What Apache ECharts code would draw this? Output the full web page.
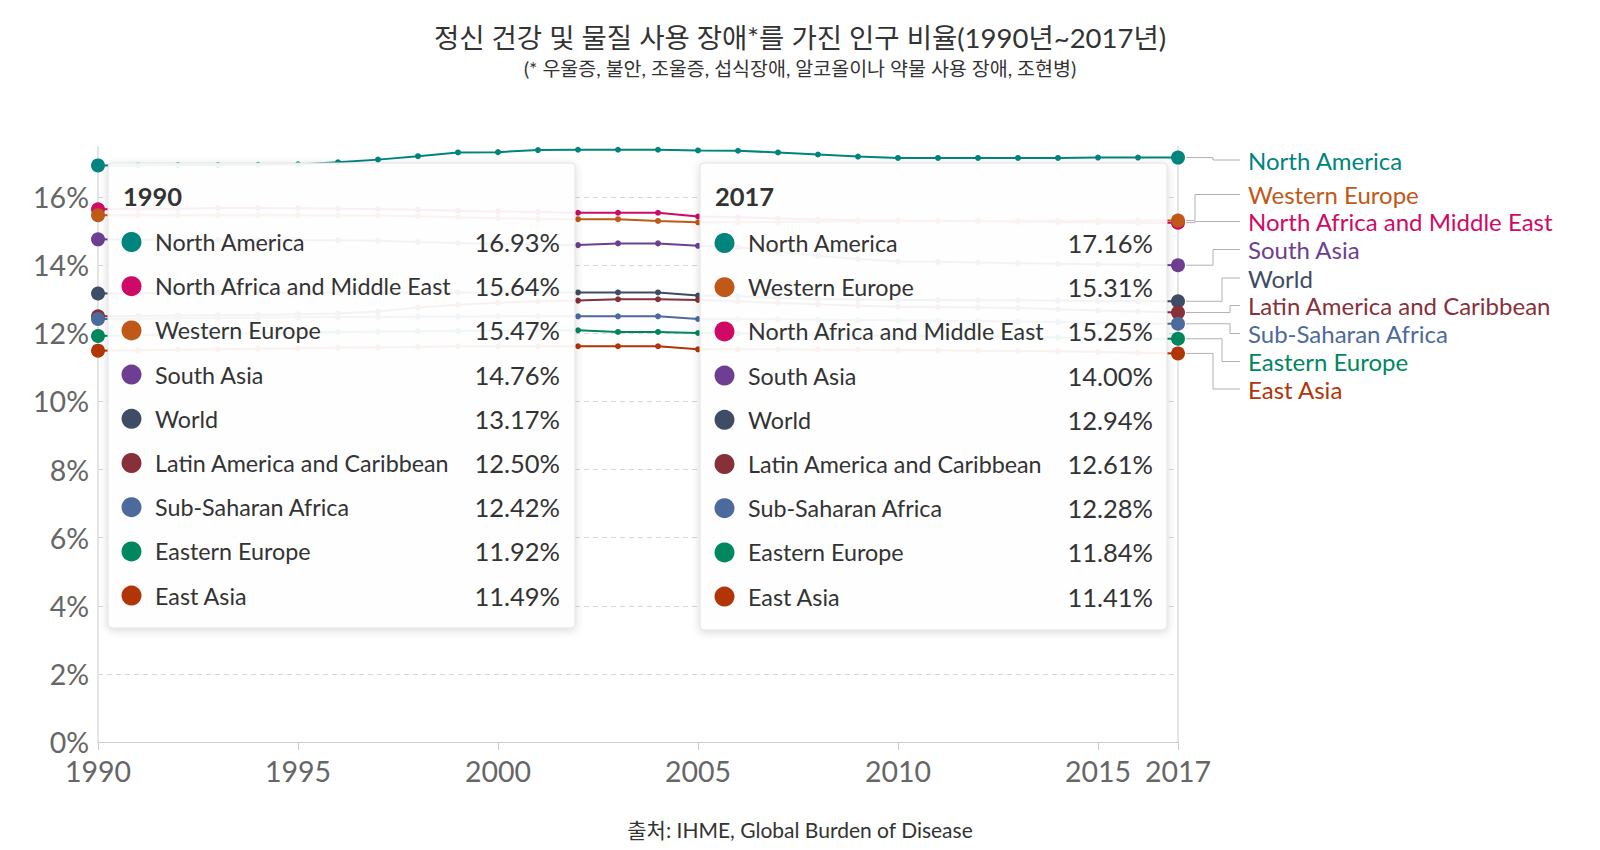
<!DOCTYPE html>
<html><head><meta charset="utf-8">
<script src="https://cdn.jsdelivr.net/npm/echarts@6/dist/echarts.min.js"></script>
<style>html,body{margin:0;padding:0;background:#fff}#c{width:1600px;height:850px}</style>
</head><body><div id="c"></div>
<script>
// ---------- DATA ----------
const years = [1990,1991,1992,1993,1994,1995,1996,1997,1998,1999,2000,2001,2002,2003,2004,2005,2006,2007,2008,2009,2010,2011,2012,2013,2014,2015,2016,2017];
const xTickLabels = [1990,1995,2000,2005,2010,2015,2017];
const yTickLabels = [0,2,4,6,8,10,12,14,16];

const northAmerica = [16.93,16.93,16.94,16.94,16.95,16.96,17.02,17.10,17.20,17.31,17.32,17.38,17.39,17.39,17.39,17.37,17.36,17.31,17.25,17.19,17.15,17.15,17.15,17.15,17.15,17.16,17.16,17.16];
const northAfricaMiddleEast = [15.64,15.65,15.66,15.68,15.68,15.67,15.66,15.65,15.63,15.60,15.58,15.56,15.54,15.54,15.54,15.43,15.41,15.37,15.34,15.32,15.31,15.30,15.29,15.28,15.27,15.26,15.25,15.25];
const westernEurope = [15.47,15.47,15.47,15.47,15.47,15.47,15.46,15.46,15.44,15.41,15.38,15.36,15.35,15.35,15.30,15.26,15.26,15.27,15.28,15.29,15.29,15.30,15.30,15.30,15.31,15.31,15.31,15.31];
const southAsia = [14.76,14.75,14.75,14.74,14.74,14.74,14.73,14.72,14.68,14.65,14.62,14.60,14.59,14.64,14.64,14.57,14.53,14.40,14.28,14.18,14.11,14.10,14.08,14.06,14.04,14.03,14.01,14.00];
const world = [13.17,13.18,13.19,13.19,13.20,13.20,13.20,13.20,13.20,13.20,13.20,13.20,13.20,13.20,13.20,13.11,13.09,13.04,13.01,12.99,12.98,12.98,12.97,12.97,12.96,12.95,12.94,12.94];
const latinAmerica = [12.50,12.51,12.52,12.53,12.54,12.56,12.58,12.64,12.76,12.84,12.90,12.94,12.96,13.00,13.00,12.98,12.94,12.89,12.85,12.81,12.78,12.77,12.76,12.74,12.71,12.67,12.64,12.61];
const subSaharanAfrica = [12.42,12.43,12.44,12.45,12.46,12.47,12.48,12.48,12.49,12.49,12.50,12.50,12.50,12.50,12.50,12.42,12.42,12.41,12.40,12.39,12.38,12.37,12.36,12.35,12.33,12.31,12.29,12.28];
const easternEurope = [11.92,11.94,11.96,11.98,12.00,12.02,12.04,12.05,12.06,12.07,12.08,12.10,12.09,12.04,12.04,12.01,12.00,11.98,11.96,11.94,11.93,11.92,11.91,11.90,11.88,11.87,11.85,11.84];
const eastAsia = [11.49,11.50,11.52,11.53,11.55,11.56,11.58,11.59,11.60,11.62,11.62,11.62,11.62,11.62,11.62,11.53,11.53,11.53,11.52,11.52,11.51,11.50,11.49,11.48,11.47,11.45,11.43,11.41];

const seriesNames = ['North America','North Africa and Middle East','Western Europe','South Asia','World','Latin America and Caribbean','Sub-Saharan Africa','Eastern Europe','East Asia'];
const seriesValues = [northAmerica,northAfricaMiddleEast,westernEurope,southAsia,world,latinAmerica,subSaharanAfrica,easternEurope,eastAsia];

const titleText = '정신 건강 및 물질 사용 장애*를 가진 인구 비율(1990년~2017년)';
const subtitleText = '(* 우울증, 불안, 조울증, 섭식장애, 알코올이나 약물 사용 장애, 조현병)';
const sourceText = '출처: IHME, Global Burden of Disease';

// ---------- STYLE ----------
const seriesColors = ['#00847e','#cf0a66','#c05917','#6d3e91','#3e4c65','#883039','#4c6a9c','#00875e','#b13507'];
const FONT = "Lato, 'Noto Sans CJK KR', sans-serif";

const chart = echarts.init(document.getElementById('c'), null, {renderer:'svg', width:1600, height:850});
const lastIdx = years.length - 1;

const option = {
  animation: false,
  backgroundColor: '#fff',
  title: [
    {text: titleText, left: 'center', top: 23.5, padding: 0, textStyle: {fontFamily: FONT, fontSize: 27.5, lineHeight: 28, fontWeight: 'normal', color: '#333'}},
    {text: subtitleText, left: 'center', top: 58, padding: 0, textStyle: {fontFamily: FONT, fontSize: 19.5, lineHeight: 20, fontWeight: 'normal', color: '#333'}},
    {text: sourceText, left: 'center', top: 818, padding: 0, textStyle: {fontFamily: FONT, fontSize: 21, lineHeight: 22, fontWeight: 'normal', color: '#333'}}
  ],
  grid: {left: 98, right: 422, top: 146, bottom: 108, containLabel: false},
  xAxis: {
    type: 'value', min: years[0], max: years[lastIdx], interval: 5,
    axisLine: {show: true, lineStyle: {color: '#ccc', width: 1}},
    axisTick: {show: true, length: 8, lineStyle: {color: '#ccc'}},
    axisLabel: {fontFamily: FONT, fontSize: 28.5, color: '#666', margin: 15, hideOverlap: false,
      formatter: v => (xTickLabels.indexOf(v) >= 0 ? String(v) : '')},
    splitLine: {show: true, showMinLine: true, showMaxLine: true,
      lineStyle: {width: 1.5, color: ['#dcdcdc','rgba(0,0,0,0)','rgba(0,0,0,0)','rgba(0,0,0,0)','rgba(0,0,0,0)','rgba(0,0,0,0)','#dcdcdc']}}
  },
  yAxis: {
    type: 'value', min: 0, max: 17.5, interval: 2,
    axisLine: {show: false}, axisTick: {show: false},
    axisLabel: {fontFamily: FONT, fontSize: 28.5, color: '#666', margin: 9, showMaxLabel: false,
      formatter: v => (yTickLabels.indexOf(v) >= 0 ? v + '%' : '')},
    splitLine: {show: true, showMinLine: false, showMaxLine: false, lineStyle: {color: '#d6d6d6', type: [5, 4], width: 1}}
  },
  series: seriesNames.map((name, k) => ({
    type: 'line', name: name,
    data: years.map((y, i) => [y, seriesValues[k][i]]),
    symbol: 'circle',
    symbolSize: (v, p) => (p.dataIndex === 0 || p.dataIndex === lastIdx) ? 14 : 6,
    showSymbol: true, showAllSymbol: true,
    lineStyle: {width: 2, color: seriesColors[k]},
    itemStyle: {color: seriesColors[k]},
    z: 3, silent: true, emphasis: {disabled: true}
  }))
};
chart.setOption(option);

// ---------- OVERLAYS (tooltip boxes, end labels) ----------
const g = [];
function addBox(bx, by, w, h, yearIdx, dx) {
  g.push({type: 'rect', z: 100, silent: true,
    shape: {x: bx, y: by, width: w, height: h, r: 4},
    style: {fill: 'rgba(255,255,255,0.93)', stroke: '#e2e2e2', lineWidth: 1,
      shadowBlur: 8, shadowColor: 'rgba(0,0,0,0.16)', shadowOffsetY: 2}});
  g.push({type: 'text', z: 101, silent: true, x: bx + 15, y: by + 33,
    style: {text: String(years[yearIdx]), fontFamily: FONT, fontSize: 25.5, fontWeight: 'bold', fill: '#333', align: 'left', verticalAlign: 'middle'}});
  const order = seriesNames.map((n, k) => k).sort((a, b) => seriesValues[b][yearIdx] - seriesValues[a][yearIdx]);
  order.forEach((k, i) => {
    const cy = by + 79 + dx + i * 44.2;
    g.push({type: 'circle', z: 101, silent: true, shape: {cx: bx + 23.5 + dx, cy: cy, r: 10}, style: {fill: seriesColors[k]}});
    g.push({type: 'text', z: 101, silent: true, x: bx + 47 + dx, y: cy,
      style: {text: seriesNames[k], fontFamily: FONT, fontSize: 23.3, fill: '#333', align: 'left', verticalAlign: 'middle'}});
    g.push({type: 'text', z: 101, silent: true, x: bx + 452 + dx, y: cy,
      style: {text: seriesValues[k][yearIdx].toFixed(2) + '%', fontFamily: FONT, fontSize: 25.5, fill: '#333', align: 'right', verticalAlign: 'middle'}});
  });
}
addBox(108, 163, 467, 465, 0, 0);
addBox(700, 163, 467, 467, lastIdx, 1);

// end labels with leader lines
const labelY = [160, 194.5, 221.5, 249.5, 278, 305.5, 333.5, 361.5, 389];
const elbowX = [1213, 1195, 1195, 1213, 1222, 1230, 1230, 1222, 1213];
const endOrder = seriesNames.map((n, k) => k).sort((a, b) => seriesValues[b][lastIdx] - seriesValues[a][lastIdx]);
endOrder.forEach((k, i) => {
  const p = chart.convertToPixel({gridIndex: 0}, [years[lastIdx], seriesValues[k][lastIdx]]);
  const sx = p[0] + 8, sy = p[1];
  g.push({type: 'polyline', z: 20, silent: true,
    shape: {points: [[sx, sy], [elbowX[i], sy], [elbowX[i], labelY[i]], [1240, labelY[i]]]},
    style: {stroke: '#b0b0b0', lineWidth: 1, fill: null}});
  g.push({type: 'text', z: 20, silent: true, x: 1248, y: labelY[i],
    style: {text: seriesNames[k], fontFamily: FONT, fontSize: 24, fill: seriesColors[k], align: 'left', verticalAlign: 'middle'}});
});
chart.setOption({graphic: {elements: g}});
</script>
</body></html>
